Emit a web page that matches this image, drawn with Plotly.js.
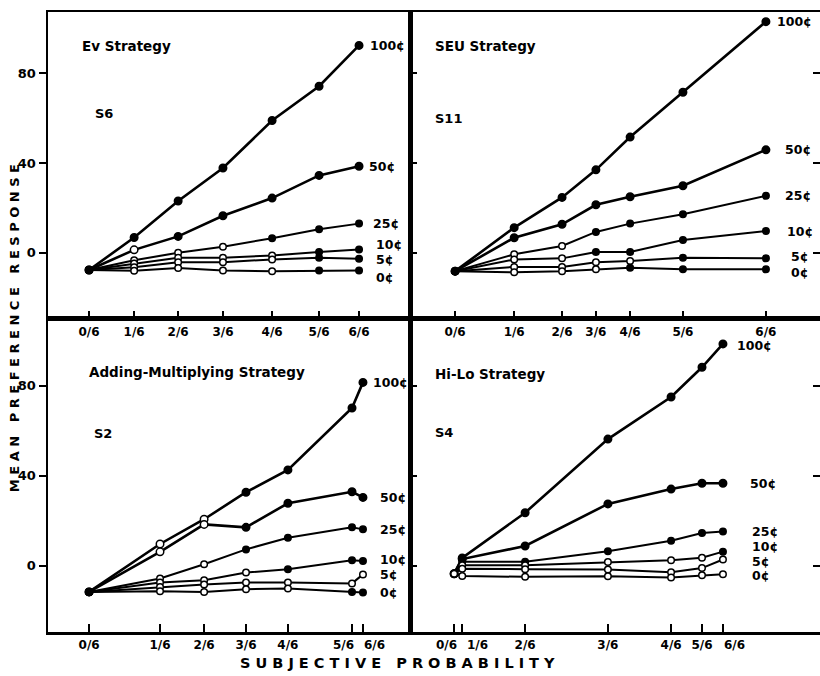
<!DOCTYPE html>
<html>
<head>
<meta charset="utf-8">
<script src="https://cdn.plot.ly/plotly-3.0.1.min.js"></script>
<style>html,body{margin:0;padding:0;background:#fff;}#chart{width:820px;height:676px;}</style>
</head>
<body>
<div id="chart"></div>
<script>
// ---- tick labels and series names ----
const probLabels = ['0/6', '1/6', '2/6', '3/6', '4/6', '5/6', '6/6'];
const seriesNames = ['100¢', '50¢', '25¢', '10¢', '5¢', '0¢'];

// ---- subjective probability positions of each objective probability (per subject) ----
const evProb  = [0, 0.167, 0.33, 0.496, 0.678, 0.852, 1];
const seuProb = [0, 0.19, 0.344, 0.453, 0.563, 0.733, 1];
const amProb  = [0, 0.259, 0.42, 0.573, 0.726, 0.96, 1];
const hlProb  = [0, 0.03, 0.264, 0.572, 0.807, 0.922, 1];

// ---- EV strategy, S6 ----
const ev100 = [-7.7, 6.8, 23.1, 37.8, 59.0, 74.3, 92.5];
const ev50  = [-7.7, 1.3, 7.3, 16.5, 24.4, 34.5, 38.6];
const ev25  = [-7.7, -3.3, 0.0, 2.7, 6.5, 10.5, 13.0];
const ev10  = [-7.7, -4.8, -2.2, -2.2, -1.2, 0.3, 1.5];
const ev5   = [-7.7, -6.5, -4.2, -4.2, -3.0, -2.2, -2.7];
const ev0   = [-7.7, -8.0, -6.8, -7.9, -8.2, -7.9, -7.9];

// ---- SEU strategy, S11 ----
const seu100 = [-8.2, 11.2, 24.7, 37.0, 51.6, 71.6, 103.1];
const seu50  = [-8.2, 6.7, 12.7, 21.4, 25.0, 29.9, 45.9];
const seu25  = [-8.2, -0.7, 3.0, 9.3, 13.0, 17.2, 25.4];
const seu10  = [-8.2, -3.0, -2.5, 0.3, 0.3, 5.7, 9.7];
const seu5   = [-8.2, -6.3, -6.3, -4.2, -3.7, -2.2, -2.5];
const seu0   = [-8.2, -8.7, -8.2, -7.4, -6.7, -7.4, -7.4];

// ---- Adding-Multiplying strategy, S2 ----
const am100 = [-11.6, 9.7, 20.7, 32.7, 42.6, 70.1, 81.5];
const am50  = [-11.6, 6.2, 18.4, 17.1, 27.8, 32.9, 30.4];
const am25  = [-11.6, -5.6, 0.7, 7.3, 12.5, 17.1, 16.2];
const am10  = [-11.6, -7.4, -6.4, -3.0, -1.5, 2.5, 2.1];
const am5   = [-11.6, -9.4, -8.3, -7.4, -7.4, -7.8, -3.8];
const am0   = [-11.6, -11.3, -11.6, -10.4, -10.1, -11.6, -11.9];

// ---- Hi-Lo strategy, S4 ----
const hl100 = [-3.5, 3.5, 23.6, 56.3, 75.0, 88.2, 98.6];
const hl50  = [-3.5, 3.0, 8.8, 27.5, 34.1, 36.7, 36.7];
const hl25  = [-3.5, 1.8, 1.8, 6.5, 11.1, 14.6, 15.2];
const hl10  = [-3.5, 0.3, 0.3, 1.7, 2.5, 3.6, 6.3];
const hl5   = [-3.5, -1.3, -1.5, -1.6, -2.8, -1.0, 2.8];
const hl0   = [-3.5, -4.5, -4.9, -4.6, -5.2, -4.2, -3.7];

const yTicks = [0, 40, 80];
const yTickText = ['0', '40', '80'];

// ---- style / layout configuration ----
const FONT = 'DejaVu Sans';
const panels = [
  { xa: 'x',  ya: 'y',  prob: evProb,  series: [ev100, ev50, ev25, ev10, ev5, ev0],
    open: [[], [1], [1, 2, 3], [1, 2, 3, 4], [1, 2, 3, 4], [1, 2, 3, 4]],
    labShift: [9, 8, 12, 15, 15, 15], labY: [0, 0, 0, 5, -1, -7],
    tickShift: [0, 0, 0, 0, 0, 0, 0],
    title: 'Ev Strategy', subj: 'S6', tx: 0.088, ty: 0.89, sx: 0.123, sy: 0.67 },
  { xa: 'x2', ya: 'y2', prob: seuProb, series: [seu100, seu50, seu25, seu10, seu5, seu0],
    open: [[], [], [1, 2], [1, 2], [1, 2, 3, 4], [1, 2, 3]],
    labShift: [9, 17, 17, 19, 23, 23], labY: [0, 0, 0, 0, 2, -3],
    tickShift: [0, 0, 0, 0, 0, 0, 0],
    title: 'SEU Strategy', subj: 'S11', tx: 0.056, ty: 0.89, sx: 0.056, sy: 0.654 },
  { xa: 'x3', ya: 'y3', prob: amProb,  series: [am100, am50, am25, am10, am5, am0],
    open: [[1, 2], [1, 2], [1, 2], [1, 2, 3], [1, 2, 3, 4, 5, 6], [1, 2, 3, 4]],
    labShift: [8, 15, 15, 15, 15, 15], labY: [0, 0, 0, 2, 0, 0],
    tickShift: [0, 0, 0, 0, 0, -9, 12],
    title: 'Adding-Multiplying Strategy', subj: 'S2', tx: 0.108, ty: 0.83, sx: 0.122, sy: 0.633 },
  { xa: 'x4', ya: 'y4', prob: hlProb,  series: [hl100, hl50, hl25, hl10, hl5, hl0],
    open: [[0], [0], [0], [0, 1, 2, 3, 4, 5], [0, 1, 2, 3, 4, 5, 6], [0, 1, 2, 3, 4, 5, 6]],
    labShift: [12, 25, 27, 27, 27, 27], labY: [-2, 0, 0, 5, -2, -1],
    tickShift: [-8, 15, 0, 0, 0, 0, 12],
    title: 'Hi-Lo Strategy', subj: 'S4', tx: 0.056, ty: 0.824, sx: 0.056, sy: 0.636 }
];

const tickFont = { family: FONT, size: 12, color: '#000', weight: 'bold' };
const traces = [];
const annotations = [];
panels.forEach(function (p) {
  p.series.forEach(function (vals, si) {
    const big = si < 2;
    traces.push({
      type: 'scatter', mode: 'lines+markers', xaxis: p.xa, yaxis: p.ya,
      x: p.prob, y: vals, name: seriesNames[si], showlegend: false,
      line: { color: '#000', width: big ? 2.6 : 2.0 },
      marker: {
        size: big ? 7.5 : 6.5,
        color: vals.map(function (v, i) { return p.open[si].indexOf(i) >= 0 ? '#fff' : '#000'; }),
        line: { color: '#000', width: 1.5 }
      },
      cliponaxis: false
    });
    annotations.push({
      xref: p.xa, yref: p.ya, x: p.prob[p.prob.length - 1], y: vals[vals.length - 1],
      text: seriesNames[si], showarrow: false, xanchor: 'left', yanchor: 'middle',
      xshift: p.labShift[si], yshift: p.labY[si],
      font: { family: FONT, size: 12.5, color: '#000', weight: 'bold' }
    });
  });
  // crowded tick labels are drawn as shifted text so they sit side by side
  p.tickText = probLabels.map(function (t, i) { return p.tickShift[i] ? '' : t; });
  probLabels.forEach(function (t, i) {
    if (!p.tickShift[i]) return;
    annotations.push({
      xref: p.xa, yref: p.ya + ' domain', x: p.prob[i], y: 0,
      text: t, showarrow: false, xanchor: 'center', yanchor: 'top',
      xshift: p.tickShift[i], yshift: -5, borderpad: 0,
      font: tickFont
    });
  });
  annotations.push({
    xref: p.xa + ' domain', yref: p.ya + ' domain', x: p.tx, y: p.ty,
    text: p.title, showarrow: false, xanchor: 'left', yanchor: 'middle',
    font: { family: FONT, size: 13.5, color: '#000', weight: 'bold' }
  });
  annotations.push({
    xref: p.xa + ' domain', yref: p.ya + ' domain', x: p.sx, y: p.sy,
    text: p.subj, showarrow: false, xanchor: 'left', yanchor: 'middle',
    font: { family: FONT, size: 13, color: '#000', weight: 'bold' }
  });
});

annotations.push({
  xref: 'paper', yref: 'paper', x: -0.044, y: 0.49, textangle: -90,
  text: 'M E A N   P R E F E R E N C E   R E S P O N S E', showarrow: false,
  xanchor: 'center', yanchor: 'middle',
  font: { family: FONT, size: 13, color: '#000', weight: 'bold' }
});
annotations.push({
  xref: 'paper', yref: 'paper', x: 0.453, y: -0.05,
  text: 'S U B J E C T I V E   P R O B A B I L I T Y', showarrow: false,
  xanchor: 'center', yanchor: 'middle',
  font: { family: FONT, size: 14.5, color: '#000', weight: 'bold' }
});

function xAxis(dom, rng, anchor, p) {
  return {
    domain: dom, range: rng, anchor: anchor, tickmode: 'array', tickvals: p.prob, ticktext: p.tickText,
    tickangle: 0,
    ticks: 'inside', ticklen: 8, tickwidth: 1.5, tickcolor: '#000',
    showline: true, linecolor: '#000', linewidth: 2.5, mirror: true,
    showgrid: false, zeroline: false, tickfont: tickFont, fixedrange: true
  };
}
function yAxis(dom, rng, anchor, left) {
  return {
    domain: dom, range: rng, anchor: anchor, tickmode: 'array', tickvals: yTicks, ticktext: yTickText,
    ticks: left ? 'outside' : 'inside', ticklen: 7, tickwidth: 2, tickcolor: '#000',
    showticklabels: left, showline: true, linecolor: '#000', linewidth: 2.5,
    mirror: left ? true : 'ticks',
    showgrid: false, zeroline: false, tickfont: { family: FONT, size: 13, color: '#000', weight: 'bold' },
    fixedrange: true
  };
}

const split = 0.469;
const vsplit = 0.505;
const layout = {
  width: 820, height: 676,
  margin: { l: 48, r: 0, t: 12, b: 44, pad: 0 },
  paper_bgcolor: '#fff', plot_bgcolor: '#fff',
  showlegend: false,
  xaxis:  xAxis([0, split], [-0.152, 1.189], 'y', panels[0]),
  yaxis:  yAxis([vsplit, 1], [-29.5, 107.4], 'x', true),
  xaxis2: xAxis([split, 1], [-0.145, 1.174], 'y2', panels[1]),
  yaxis2: yAxis([vsplit, 1], [-29.5, 107.4], 'x2', false),
  xaxis3: xAxis([0, split], [-0.150, 1.172], 'y3', panels[2]),
  yaxis3: yAxis([0, vsplit], [-29.4, 109.7], 'x3', true),
  xaxis4: xAxis([split, 1], [-0.164, 1.361], 'y4', panels[3]),
  yaxis4: yAxis([0, vsplit], [-29.4, 109.7], 'x4', false),
  annotations: annotations
};

Plotly.newPlot('chart', traces, layout, { displayModeBar: false, staticPlot: true });
</script>
</body>
</html>
